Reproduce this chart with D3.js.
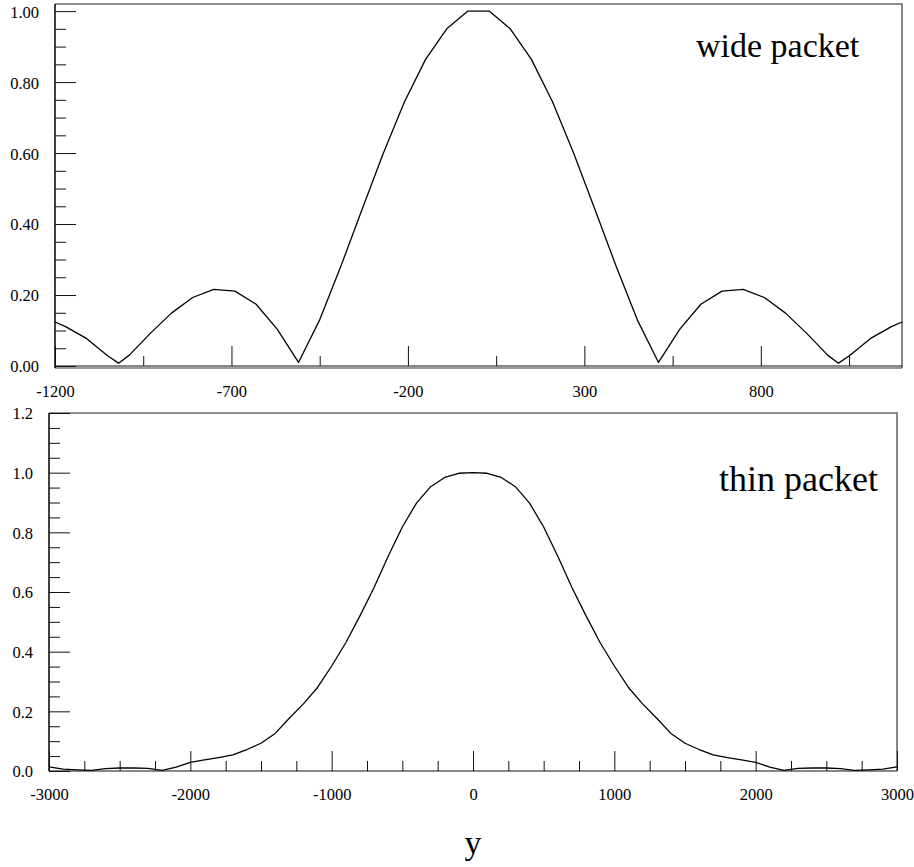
<!DOCTYPE html>
<html>
<head>
<meta charset="utf-8">
<script src="https://cdn.jsdelivr.net/npm/d3@7"></script>
<style>
  html, body { margin: 0; padding: 0; background: #fff; }
  svg { display: block; }
  text { font-family: "Liberation Serif", "DejaVu Serif", serif; fill: #000; }
</style>
</head>
<body>
<svg id="chart" width="914" height="867"></svg>
<script>
// ---------- data: wide packet (top panel) ----------
const wideX = [-1200, -1170, -1110, -1050, -1020, -990, -930, -870, -810, -750, -690, -630, -570, -510,
               -450, -390, -330, -270, -210, -150, -90, -30, 30, 90, 150, 210, 270, 330, 390, 450,
               510, 570, 630, 690, 750, 810, 870, 930, 990, 1020, 1050, 1110, 1170, 1200];
const wideY = [0.124, 0.111, 0.077, 0.028, 0.008, 0.030, 0.092, 0.149, 0.193, 0.216, 0.211, 0.174, 0.103, 0.010,
               0.130, 0.281, 0.441, 0.599, 0.744, 0.864, 0.950, 1.000, 1.000, 0.950, 0.864, 0.744, 0.599, 0.441, 0.281, 0.130,
               0.010, 0.103, 0.174, 0.211, 0.216, 0.193, 0.149, 0.092, 0.030, 0.008, 0.028, 0.077, 0.111, 0.124];

// ---------- data: thin packet (bottom panel) ----------
const thinX = [-3000, -2900, -2800, -2700, -2600, -2500, -2400, -2300, -2200, -2100, -2000, -1900, -1800, -1700,
               -1600, -1500, -1400, -1300, -1200, -1100, -1000, -900, -800, -700, -600, -500, -400, -300, -200, -100,
               0, 100, 200, 300, 400, 500, 600, 700, 800, 900, 1000, 1100, 1200, 1300, 1400, 1500, 1600, 1700,
               1800, 1900, 2000, 2100, 2200, 2300, 2400, 2500, 2600, 2700, 2800, 2900, 3000];
const thinY = [0.014, 0.006, 0.004, 0.002, 0.008, 0.010, 0.010, 0.009, 0.002, 0.013, 0.029, 0.037, 0.045, 0.054,
               0.072, 0.093, 0.126, 0.177, 0.225, 0.280, 0.352, 0.430, 0.520, 0.615, 0.720, 0.818, 0.898, 0.953, 0.984, 0.998,
               1.000, 0.998, 0.984, 0.953, 0.898, 0.818, 0.720, 0.615, 0.520, 0.430, 0.352, 0.280, 0.225, 0.177, 0.126, 0.093, 0.072, 0.054,
               0.045, 0.037, 0.029, 0.013, 0.002, 0.009, 0.010, 0.010, 0.008, 0.002, 0.004, 0.006, 0.014];

// ---------- ticks ----------
const wideXMajor = [-1200, -700, -200, 300, 800];
const wideXMinor = [-950, -450, 50, 550, 1050];
const wideYMajor = [0, 0.2, 0.4, 0.6, 0.8, 1.0];
const wideYMinor = [0.05, 0.1, 0.15, 0.25, 0.3, 0.35, 0.45, 0.5, 0.55, 0.65, 0.7, 0.75, 0.85, 0.9, 0.95];
const thinXMajor = [-3000, -2000, -1000, 0, 1000, 2000, 3000];
const thinXMinor = [-2750, -2500, -2250, -1750, -1500, -1250, -750, -500, -250, 250, 500, 750, 1250, 1500, 1750, 2250, 2500, 2750];
const thinYMajor = [0, 0.2, 0.4, 0.6, 0.8, 1.0, 1.2];
const thinYMinor = [0.05, 0.1, 0.15, 0.25, 0.3, 0.35, 0.45, 0.5, 0.55, 0.65, 0.7, 0.75, 0.85, 0.9, 0.95, 1.05, 1.1, 1.15];

const topLabel = "wide packet";
const bottomLabel = "thin packet";
const xTitle = "y";

const svg = d3.select("#chart");

function panel(cfg) {
  const x = d3.scaleLinear().domain(cfg.xDomain).range([cfg.left, cfg.right]);
  const y = d3.scaleLinear().domain(cfg.yDomain).range([cfg.bottom, cfg.top]);
  const g = svg.append("g");

  // frame (top and right) in grey
  g.append("path")
    .attr("d", `M${cfg.left},${cfg.top}H${cfg.right}V${cfg.frameBottom}`)
    .attr("fill", "none").attr("stroke", "#6a6a6a").attr("stroke-width", 1.6);
  if (cfg.frameBottom !== cfg.bottom) {
    g.append("line").attr("x1", cfg.left).attr("x2", cfg.right)
      .attr("y1", cfg.frameBottom).attr("y2", cfg.frameBottom)
      .attr("stroke", "#333").attr("stroke-width", 1);
  }
  // axis lines
  g.append("line").attr("x1", cfg.left).attr("x2", cfg.right)
    .attr("y1", cfg.bottom).attr("y2", cfg.bottom).attr("stroke", "#111").attr("stroke-width", 1.2);
  g.append("line").attr("x1", cfg.left).attr("x2", cfg.left)
    .attr("y1", cfg.top).attr("y2", cfg.frameBottom).attr("stroke", "#111").attr("stroke-width", 1.6);

  // x axis major ticks + labels (hyphen minus as in the original)
  const xMaj = d3.axisBottom(x).tickValues(cfg.xMajor).tickSize(-20).tickPadding(cfg.xPad)
    .tickFormat(d => String(d));
  const gx = g.append("g").attr("transform", `translate(0,${cfg.bottom})`).call(xMaj);
  const xMin = d3.axisBottom(x).tickValues(cfg.xMinor).tickSize(-10).tickFormat("");
  const gx2 = g.append("g").attr("transform", `translate(0,${cfg.bottom})`).call(xMin);

  // y axis
  const yMaj = d3.axisLeft(y).tickValues(cfg.yMajor).tickSize(-21).tickPadding(16)
    .tickFormat(d => d.toFixed(cfg.yDec));
  const gy = g.append("g").attr("transform", `translate(${cfg.left},0)`).call(yMaj);
  const yMin = d3.axisLeft(y).tickValues(cfg.yMinor).tickSize(-11).tickFormat("");
  const gy2 = g.append("g").attr("transform", `translate(${cfg.left},0)`).call(yMin);

  [gx, gx2, gy, gy2].forEach(a => {
    a.attr("font-family", null).attr("font-size", null);
    a.select(".domain").remove();
    a.selectAll("line").attr("stroke", "#111").attr("stroke-width", 1);
    a.selectAll("text").attr("font-family", "Liberation Serif, serif").attr("font-size", 16.5).attr("fill", "#000");
  });
  gy.selectAll("text").attr("dy", "0.36em");

  // curve
  const line = d3.line().x((d, i) => x(cfg.xs[i])).y(d => y(d));
  g.append("path").datum(cfg.ys).attr("d", line)
    .attr("fill", "none").attr("stroke", "#000").attr("stroke-width", 1.3).attr("stroke-linejoin", "round");

  g.append("text").attr("x", cfg.labelX).attr("y", cfg.labelY)
    .attr("font-size", cfg.labelSize).text(cfg.label);
}

panel({
  xDomain: [-1200, 1200], yDomain: [0, 1.02],
  left: 55, right: 902, top: 4, bottom: 366, frameBottom: 368,
  xMajor: wideXMajor, xMinor: wideXMinor, yMajor: wideYMajor, yMinor: wideYMinor,
  yDec: 2, xPad: 19, xs: wideX, ys: wideY,
  label: topLabel, labelX: 696, labelY: 57, labelSize: 34
});

panel({
  xDomain: [-3000, 3000], yDomain: [0, 1.2],
  left: 49, right: 897, top: 413, bottom: 771, frameBottom: 771,
  xMajor: thinXMajor, xMinor: thinXMinor, yMajor: thinYMajor, yMinor: thinYMinor,
  yDec: 1, xPad: 17, xs: thinX, ys: thinY,
  label: bottomLabel, labelX: 719, labelY: 491, labelSize: 36
});

svg.append("text").attr("x", 473).attr("y", 854).attr("text-anchor", "middle")
  .attr("font-size", 34).text(xTitle);
</script>
</body>
</html>
